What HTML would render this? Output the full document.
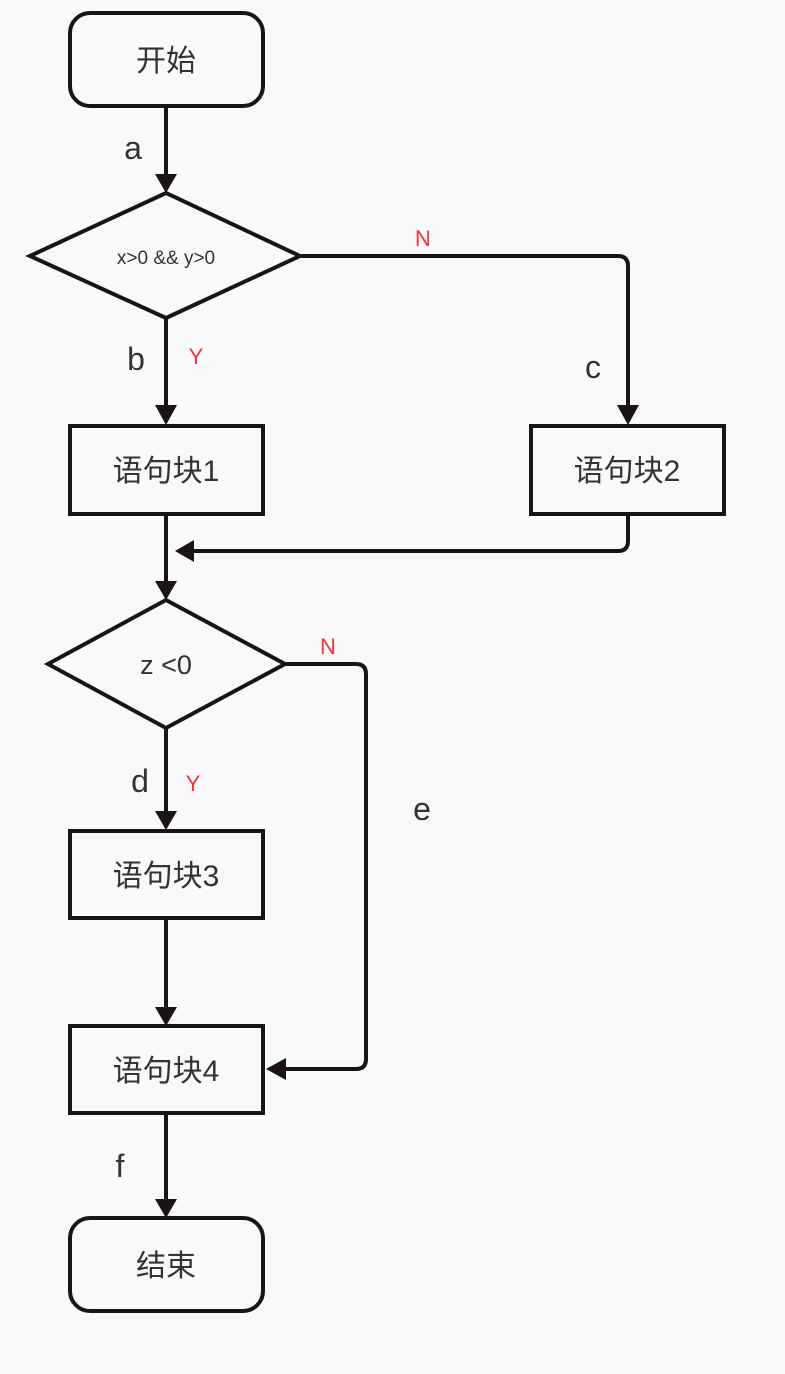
<!DOCTYPE html>
<html><head><meta charset="utf-8"><style>
html,body{margin:0;padding:0;background:#f8f9fb;}
svg{display:block;}
text{font-family:"Liberation Sans","Noto Sans CJK SC",sans-serif;fill:#333;}
</style></head><body>
<svg width="785" height="1374" viewBox="0 0 785 1374">
<defs>
<marker id="ar" markerWidth="8" markerHeight="8" refX="7" refY="4" orient="auto" markerUnits="userSpaceOnUse" viewBox="0 0 8 8">
</marker>
</defs>
<g fill="none" stroke="#1a1416" stroke-width="4">
<rect x="70" y="13" width="193" height="93" rx="20"/>
<polygon points="30,256 166,193 300,256 166,318"/>
<rect x="70" y="426" width="193" height="88"/>
<rect x="531" y="426" width="193" height="88"/>
<polygon points="48,664 166,600 285,664 166,728"/>
<rect x="70" y="831" width="193" height="87"/>
<rect x="70" y="1026" width="193" height="87"/>
<rect x="70" y="1218" width="193" height="93" rx="20"/>
<line x1="166" y1="106" x2="166" y2="175"/>
<line x1="166" y1="318" x2="166" y2="406"/>
<path d="M300 256 H618 Q628 256 628 266 V406"/>
<line x1="166" y1="514" x2="166" y2="582"/>
<path d="M628 514 V541 Q628 551 618 551 H192"/>
<line x1="166" y1="728" x2="166" y2="812"/>
<path d="M285 664 H356 Q366 664 366 674 V1059 Q366 1069 356 1069 H285"/>
<line x1="166" y1="918" x2="166" y2="1008"/>
<line x1="166" y1="1113" x2="166" y2="1200"/>
</g>
<g fill="#1a1416">
<polygon points="155,174 177,174 166,193"/>
<polygon points="155,405 177,405 166,425"/>
<polygon points="617,405 639,405 628,425"/>
<polygon points="194,540 194,562 175,551"/>
<polygon points="155,581 177,581 166,600"/>
<polygon points="155,811 177,811 166,830"/>
<polygon points="155,1007 177,1007 166,1026"/>
<polygon points="286,1058 286,1080 266,1069"/>
<polygon points="155,1199 177,1199 166,1218"/>
</g>
<g font-size="30" text-anchor="middle">
<text x="166" y="71">开始</text>
<text x="166" y="481">语句块1</text>
<text x="627" y="481">语句块2</text>
<text x="166" y="886">语句块3</text>
<text x="166" y="1081">语句块4</text>
<text x="166" y="1276">结束</text>
</g>
<text x="166" y="264" font-size="19" text-anchor="middle">x&gt;0 &amp;&amp; y&gt;0</text>
<text x="166" y="674" font-size="27" text-anchor="middle">z &lt;0</text>
<g font-size="32" text-anchor="middle">
<text x="133" y="159">a</text>
<text x="136" y="370">b</text>
<text x="593" y="378">c</text>
<text x="140" y="792">d</text>
<text x="422" y="820">e</text>
<text x="120" y="1177">f</text>
</g>
<g font-size="22" text-anchor="middle" style="fill:#f5333f">
<text x="196" y="364" style="fill:#f5333f">Y</text>
<text x="423" y="246" style="fill:#f5333f">N</text>
<text x="193" y="791" style="fill:#f5333f">Y</text>
<text x="328" y="654" style="fill:#f5333f">N</text>
</g>
</svg>
</body></html>
